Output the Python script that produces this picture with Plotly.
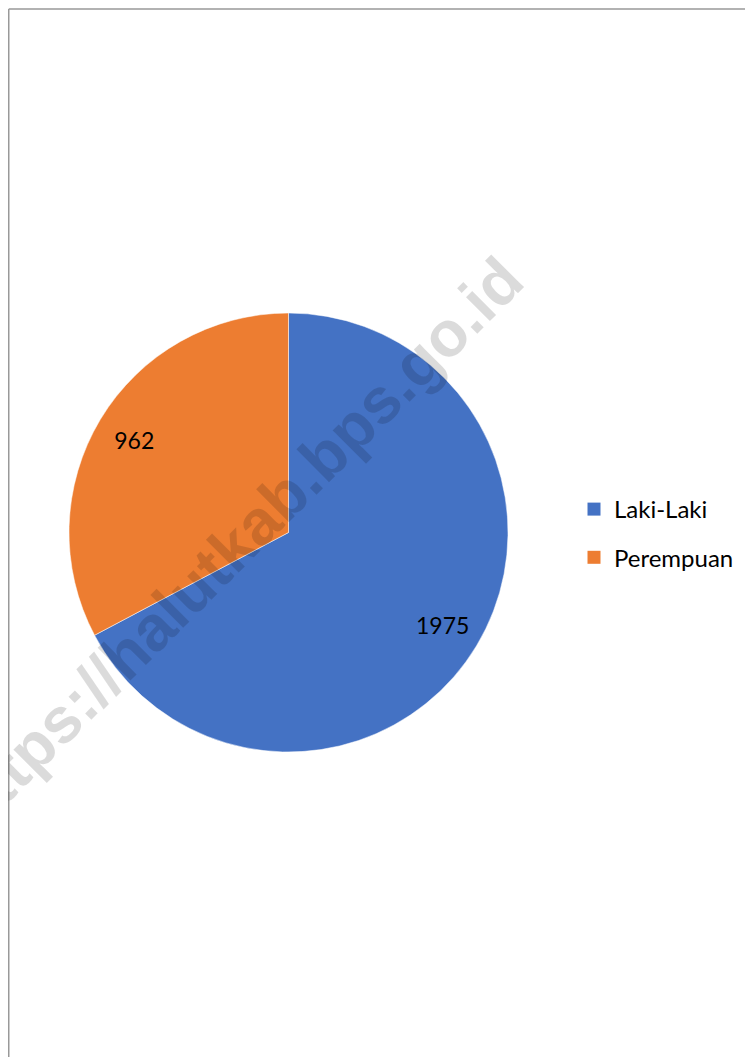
import plotly.graph_objects as go

# the page body keeps its 8px margin, so the figure is laid out in page pixels minus 8
W, H = 745, 1049
OFF = 8

categories = ["Laki-Laki", "Perempuan"]
values = [1975, 962]
colors = ["#4472C4", "#ED7D31"]
watermark = "https://halutkab.bps.go.id"


def px_x(x):
    return (x - OFF) / W


def px_y(y):
    return 1 - (y - OFF) / H


pie_domain = dict(x=[px_x(69), px_x(508)], y=[px_y(752), px_y(313)])

fig = go.Figure()

fig.add_trace(
    go.Pie(
        labels=categories,
        values=values,
        marker=dict(colors=colors, line=dict(color="white", width=0.5)),
        sort=False,
        direction="clockwise",
        rotation=0,
        textinfo="none",
        domain=pie_domain,
        showlegend=False,
        hoverinfo="label+value+percent",
    )
)

# transparent ring on top, only to carry the value labels out near the rim
fig.add_trace(
    go.Pie(
        labels=categories,
        values=values,
        hole=0.64,
        marker=dict(colors=["rgba(0,0,0,0)"] * len(values), line=dict(width=0)),
        sort=False,
        direction="clockwise",
        rotation=0,
        textinfo="value",
        textposition="inside",
        insidetextorientation="horizontal",
        textfont=dict(family="Lato", size=23, color="black"),
        domain=pie_domain,
        showlegend=False,
        hoverinfo="skip",
    )
)

# legend entries as square markers, kept in separate groups for the wide spacing
for i, (name, color) in enumerate(zip(categories, colors)):
    fig.add_trace(
        go.Scatter(
            x=[None],
            y=[None],
            mode="markers",
            name=name,
            legendgroup=f"g{i}",
            marker=dict(symbol="square", size=13, color=color),
        )
    )

fig.add_annotation(
    x=px_x(236),
    y=px_y(544),
    xref="paper",
    yref="paper",
    xanchor="center",
    yanchor="middle",
    text=watermark,
    showarrow=False,
    textangle=-45,
    font=dict(family="Liberation Sans", size=64, weight="bold", color="rgba(0,0,0,0.14)"),
)

# thin frame (top and left edges visible)
fig.add_shape(type="line", xref="paper", yref="paper",
              x0=0.001, x1=1, y0=0.999, y1=0.999,
              line=dict(color="#999999", width=1.5))
fig.add_shape(type="line", xref="paper", yref="paper",
              x0=0.001, x1=0.001, y0=0, y1=0.999,
              line=dict(color="#999999", width=1.5))

fig.update_layout(
    width=W,
    height=H,
    margin=dict(l=0, r=0, t=0, b=0),
    paper_bgcolor="white",
    plot_bgcolor="white",
    xaxis=dict(visible=False),
    yaxis=dict(visible=False),
    legend=dict(
        x=px_x(574),
        y=px_y(487),
        xanchor="left",
        yanchor="top",
        traceorder="grouped",
        tracegroupgap=14,
        font=dict(family="Lato", size=24, color="black"),
        bgcolor="rgba(0,0,0,0)",
    ),
)

fig.write_html("out.html")
